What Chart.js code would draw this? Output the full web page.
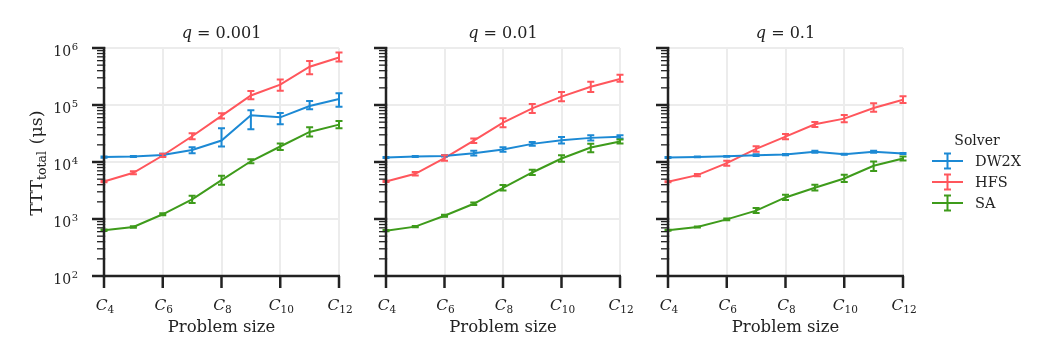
<!DOCTYPE html>
<html>
<head>
<meta charset="utf-8">
<script src="https://cdn.jsdelivr.net/npm/chart.js@4.4.1/dist/chart.umd.min.js"></script>
<style>
  html, body { margin: 0; padding: 0; background: #fff; }
  #wrap { position: relative; width: 1038px; height: 346px; overflow: hidden; }
  canvas { position: absolute; top: 0; }
</style>
</head>
<body>
<div id="wrap">
  <canvas id="c1" width="360" height="346" style="left:0px"></canvas>
  <canvas id="c2" width="280" height="346" style="left:360px"></canvas>
  <canvas id="c3" width="398" height="346" style="left:640px"></canvas>
</div>
<script>
// --- data ---
const categories = ["C4", "C5", "C6", "C7", "C8", "C9", "C10", "C11", "C12"];
const sizeSubs = ["4", "5", "6", "7", "8", "9", "10", "11", "12"];
const qValues = ["0.001", "0.01", "0.1"];
const yDecades = [1e2, 1e3, 1e4, 1e5, 1e6];
const yDecadeExp = ["2", "3", "4", "5", "6"];
const solvers = ["DW2X", "HFS", "SA"];

// q = 0.001
const dw2x1   = [12200, 12500, 13300, 16300, 23800, 65900, 60800, 96100, 127000];
const dw2x1Lo = [11900, 12200, 12600, 14300, 18700, 37500, 45900, 84000, 93500];
const dw2x1Hi = [12500, 12800, 14000, 18200, 39000, 80700, 72400, 117000, 160000];
const hfs1    = [4560, 6460, 13000, 28300, 64300, 147000, 227000, 469000, 680000];
const hfs1Lo  = [4400, 6100, 12200, 25100, 57700, 126000, 178000, 348000, 580000];
const hfs1Hi  = [4700, 6850, 13900, 31900, 71400, 176000, 281000, 589000, 830000];
const sa1     = [634, 725, 1210, 2210, 4810, 10300, 18700, 33700, 45300];
const sa1Lo   = [615, 705, 1160, 1900, 3980, 9550, 16300, 27900, 39100];
const sa1Hi   = [655, 745, 1260, 2560, 5730, 11200, 21100, 40600, 52500];

// q = 0.01
const dw2x2   = [12000, 12500, 12800, 14300, 16600, 20800, 24100, 26500, 27600];
const dw2x2Lo = [11800, 12300, 12500, 13000, 15100, 19200, 21100, 23800, 25800];
const dw2x2Hi = [12200, 12700, 13100, 15700, 18200, 22500, 27500, 29500, 29500];
const hfs2    = [4560, 6210, 11700, 23800, 49100, 87400, 140000, 209000, 285000];
const hfs2Lo  = [4450, 5800, 10500, 21600, 40600, 72400, 116000, 169000, 256000];
const hfs2Hi  = [4670, 6650, 13200, 25800, 58500, 104000, 169000, 256000, 340000];
const sa2     = [625, 735, 1140, 1850, 3530, 6550, 11500, 17900, 22900];
const sa2Lo   = [610, 715, 1090, 1760, 3170, 5890, 10100, 14900, 21100];
const sa2Hi   = [640, 755, 1190, 1950, 3930, 7290, 13200, 20800, 24800];

// q = 0.1
const dw2x3   = [12000, 12300, 12600, 13200, 13500, 15100, 13700, 15100, 14100];
const dw2x3Lo = [11800, 12100, 12400, 12700, 13200, 14500, 13400, 14500, 13800];
const dw2x3Hi = [12200, 12500, 12800, 13700, 13800, 15700, 14000, 15700, 14400];
const hfs3    = [4500, 5890, 9550, 17000, 27900, 45900, 57700, 88700, 124000];
const hfs3Lo  = [4400, 5650, 8570, 15100, 25100, 41200, 49800, 76400, 108000];
const hfs3Hi  = [4600, 6150, 10500, 18900, 31100, 50500, 66800, 107000, 142000];
const sa3     = [634, 725, 986, 1400, 2390, 3530, 5140, 8570, 11500];
const sa3Lo   = [620, 710, 950, 1270, 2150, 3170, 4440, 6920, 10600];
const sa3Hi   = [648, 740, 1020, 1560, 2670, 3980, 5970, 10200, 12500];

const COLORS = ["#1c89d4", "#ff565c", "#3e9b1b"];
const GRID = "#ececec";
const INK = "#222222";
const SERIF = '"DejaVu Serif", "Liberation Serif", serif';

// y tick positions: decades + minor 2..9
const yTickVals = [];
yDecades.forEach((d, i) => {
  yTickVals.push(d);
  if (i < yDecades.length - 1) for (let k = 2; k <= 9; k++) yTickVals.push(d * k);
});
const isDecade = v => yDecades.indexOf(v) >= 0;

// draw text made of several pieces (sub/superscripts, italics)
function drawParts(ctx, parts, x, y, align) {
  let w = 0;
  parts.forEach(p => { ctx.font = p.font; p.w = ctx.measureText(p.t).width + (p.gap || 0); w += p.w; });
  let cx = align === "center" ? x - w / 2 : align === "right" ? x - w : x;
  ctx.textAlign = "left";
  ctx.textBaseline = "alphabetic";
  parts.forEach(p => { ctx.font = p.font; ctx.fillText(p.t, cx, y + (p.dy || 0)); cx += p.w; });
}

const decoPlugin = {
  id: "deco",
  afterDatasetsDraw(chart) {
    const ctx = chart.ctx, xs = chart.scales.x, ys = chart.scales.y;
    ctx.save();
    chart.data.datasets.forEach(ds => {
      ctx.strokeStyle = ds.borderColor;
      ctx.lineWidth = 2;
      ds.data.forEach((v, i) => {
        const x = xs.getPixelForValue(i);
        const yl = ys.getPixelForValue(ds.lo[i]);
        const yh = ys.getPixelForValue(ds.hi[i]);
        ctx.beginPath();
        ctx.moveTo(x, yl); ctx.lineTo(x, yh);
        ctx.moveTo(x - 3.5, yl); ctx.lineTo(x + 3.5, yl);
        ctx.moveTo(x - 3.5, yh); ctx.lineTo(x + 3.5, yh);
        ctx.stroke();
      });
    });
    ctx.restore();
  },
  afterDraw(chart, args, opts) {
    const ctx = chart.ctx, xs = chart.scales.x, ys = chart.scales.y;
    const a = chart.chartArea;
    ctx.save();
    ctx.fillStyle = INK;
    ctx.strokeStyle = INK;

    // spines
    ctx.lineWidth = 2.5;
    ctx.beginPath();
    ctx.moveTo(a.left, a.top - 1); ctx.lineTo(a.left, a.bottom + 1.25);
    ctx.moveTo(a.left - 1.25, a.bottom); ctx.lineTo(a.right + 1, a.bottom);
    ctx.stroke();

    // y ticks
    yTickVals.forEach(v => {
      const y = ys.getPixelForValue(v);
      const major = isDecade(v);
      ctx.lineWidth = major ? 2.5 : 1.3;
      ctx.beginPath();
      ctx.moveTo(a.left - (major ? 12 : 7), y);
      ctx.lineTo(a.left + 1.2, y);
      ctx.stroke();
    });

    // y labels
    if (opts.yLabels) {
      yDecades.forEach((d, i) => {
        const y = ys.getPixelForValue(d);
        const rx = a.left - 26;
        ctx.font = "10px " + SERIF;
        const ew = ctx.measureText(yDecadeExp[i]).width;
        ctx.textAlign = "left";
        ctx.fillText(yDecadeExp[i], rx - ew, y + 1.5);
        ctx.font = "14px " + SERIF;
        ctx.textAlign = "right";
        ctx.fillText("10", rx - ew - 0.5, y + 8);
      });
      // y title
      ctx.save();
      ctx.translate(42, (a.top + a.bottom) / 2 + 1);
      ctx.rotate(-Math.PI / 2);
      drawParts(ctx, [
        { t: "TTT", font: "17.5px " + SERIF },
        { t: "total", font: "12.5px " + SERIF, dy: 3.5, gap: 1 },
        { t: " (\u03bcs)", font: "17.5px " + SERIF }
      ], 0, 0, "center");
      ctx.restore();
    }

    // x ticks + labels
    categories.forEach((c, i) => {
      if (i % 2) return;
      const x = xs.getPixelForValue(i);
      ctx.lineWidth = 2.5;
      ctx.beginPath();
      ctx.moveTo(x, a.bottom); ctx.lineTo(x, a.bottom + 12);
      ctx.stroke();
      drawParts(ctx, [
        { t: "C", font: "italic 15.5px " + SERIF },
        { t: sizeSubs[i], font: "10.5px " + SERIF, dy: 3 }
      ], x + 1, a.bottom + 34, "center");
    });

    // x title
    ctx.font = "16.5px " + SERIF;
    ctx.textAlign = "center";
    ctx.fillText("Problem size", (a.left + a.right) / 2, a.bottom + 56);

    // panel title
    drawParts(ctx, [
      { t: "q", font: "italic 16px " + SERIF },
      { t: " = " + opts.q, font: "16px " + SERIF }
    ], (a.left + a.right) / 2, 38, "center");

    // legend
    if (opts.legend) {
      const lx = opts.legendX;
      ctx.font = "14px " + SERIF;
      ctx.textAlign = "center";
      ctx.fillText("Solver", lx + 45, 145);
      solvers.forEach((s, i) => {
        const y = 161 + i * 21;
        const cx = lx + 15.5;
        ctx.strokeStyle = COLORS[i];
        ctx.lineWidth = 2;
        ctx.beginPath();
        ctx.moveTo(lx, y); ctx.lineTo(lx + 31, y);
        ctx.moveTo(cx, y - 7.5); ctx.lineTo(cx, y + 7.5);
        ctx.moveTo(cx - 3.5, y - 7.5); ctx.lineTo(cx + 3.5, y - 7.5);
        ctx.moveTo(cx - 3.5, y + 7.5); ctx.lineTo(cx + 3.5, y + 7.5);
        ctx.stroke();
        ctx.fillStyle = INK;
        ctx.textAlign = "left";
        ctx.font = "14.5px " + SERIF;
        ctx.fillText(s, lx + 43, y + 5);
      });
    }
    ctx.restore();
  }
};

function makePanel(id, padding, series, deco) {
  return new Chart(document.getElementById(id), {
    type: "line",
    data: {
      labels: categories,
      datasets: series.map((s, i) => ({
        label: solvers[i],
        data: s[0], lo: s[1], hi: s[2],
        borderColor: COLORS[i],
        borderWidth: 2,
        pointRadius: 0,
        tension: 0,
        fill: false
      }))
    },
    options: {
      responsive: false,
      animation: false,
      layout: { padding },
      plugins: { legend: { display: false }, tooltip: { enabled: false }, deco },
      scales: {
        x: {
          type: "category",
          offset: false,
          ticks: { display: false },
          border: { display: false },
          grid: { color: c => (c.index % 2 === 0 ? GRID : "rgba(0,0,0,0)"), lineWidth: 2, drawTicks: false },
          afterFit: s => { s.height = 0; }
        },
        y: {
          type: "logarithmic",
          min: 1e2, max: 1e6,
          ticks: { display: false },
          border: { display: false },
          grid: { color: c => (c.tick && isDecade(c.tick.value) ? GRID : "rgba(0,0,0,0)"), lineWidth: 2, drawTicks: false },
          afterBuildTicks: s => { s.ticks = yTickVals.map(v => ({ value: v })); },
          afterFit: s => { s.width = 0; }
        }
      }
    },
    plugins: [decoPlugin]
  });
}

makePanel("c1", { left: 104, right: 21, top: 48, bottom: 70 },
  [[dw2x1, dw2x1Lo, dw2x1Hi], [hfs1, hfs1Lo, hfs1Hi], [sa1, sa1Lo, sa1Hi]],
  { q: qValues[0], yLabels: true });
makePanel("c2", { left: 26, right: 20, top: 48, bottom: 70 },
  [[dw2x2, dw2x2Lo, dw2x2Hi], [hfs2, hfs2Lo, hfs2Hi], [sa2, sa2Lo, sa2Hi]],
  { q: qValues[1] });
makePanel("c3", { left: 28, right: 135, top: 48, bottom: 70 },
  [[dw2x3, dw2x3Lo, dw2x3Hi], [hfs3, hfs3Lo, hfs3Hi], [sa3, sa3Lo, sa3Hi]],
  { q: qValues[2], legend: true, legendX: 292 });
</script>
</body>
</html>
